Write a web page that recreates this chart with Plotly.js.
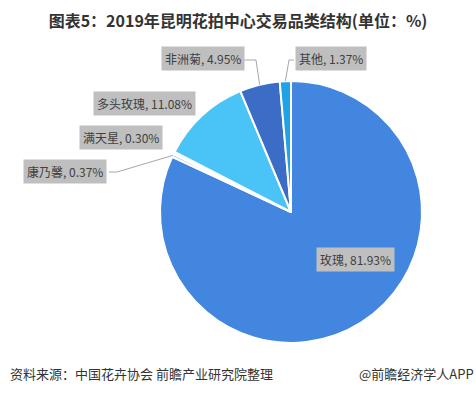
<!DOCTYPE html>
<html>
<head>
<meta charset="utf-8">
<script src="https://cdn.plot.ly/plotly-3.0.1.min.js"></script>
<style>
  html,body{margin:0;padding:0;background:#fff;}
  #chart{width:476px;height:394px;}
</style>
</head>
<body>
<div id="chart"></div>
<script>
// ---- data ----
const categories = ['玫瑰', '康乃馨', '满天星', '多头玫瑰', '非洲菊', '其他'];
const shares = [81.93, 0.37, 0.30, 11.08, 4.95, 1.37];

// ---- style / layout constants ----
const colors = ['#4286e0', '#8cc8f0', '#c9e6f8', '#4ac3f6', '#3c6dc6', '#1ea3e6'];
const W = 476, H = 394;
const cx = 291, cy = 212, R = 131;
// label box centres (px) per category
const labelPos = [[355, 259], [65, 171], [121, 137], [144, 103], [203, 59], [331, 59]];
// leader: null = none; otherwise [startX, startY, elbowX, elbowY] in px
const leaders = [null, [109, 172, 117, 172], null, null, [244, 60, 256, 60], [294, 60, 289, 60]];

const font = 'Microsoft YaHei, "Noto Sans CJK SC", sans-serif';

// compute mid-angle edge points from data (clockwise from 12 o'clock)
const total = shares.reduce((a, b) => a + b, 0);
let cum = 0;
const edge = shares.map(v => {
  const mid = (cum + v / 2) / total * 2 * Math.PI;
  cum += v;
  return [cx + R * Math.sin(mid), cy - R * Math.cos(mid)];
});

const px = x => x / W, py = y => 1 - y / H;

const annotations = categories.map((c, i) => ({
  xref: 'paper', yref: 'paper',
  x: px(labelPos[i][0]), y: py(labelPos[i][1]),
  xanchor: 'center', yanchor: 'middle',
  text: c + ', ' + shares[i].toFixed(2) + '%',
  showarrow: false,
  bgcolor: '#bfbfbf',
  borderpad: 3,
  font: {family: font, size: 12, color: '#404040'}
}));

annotations.push({
  xref: 'paper', yref: 'paper', x: 8 / W, y: py(373),
  xanchor: 'left', yanchor: 'middle', showarrow: false,
  text: '资料来源：中国花卉协会 前瞻产业研究院整理',
  font: {family: font, size: 13, color: '#333333'}
});
annotations.push({
  xref: 'paper', yref: 'paper', x: 476 / W, y: py(373),
  xanchor: 'right', yanchor: 'middle', showarrow: false,
  text: '@前瞻经济学人APP',
  font: {family: font, size: 13, color: '#333333'}
});

const shapes = [];
leaders.forEach((l, i) => {
  if (!l) return;
  const e = edge[i];
  shapes.push({
    type: 'path', xref: 'paper', yref: 'paper',
    path: `M ${px(l[0])} ${py(l[1])} L ${px(l[2])} ${py(l[3])} L ${px(e[0])} ${py(e[1])}`,
    line: {color: '#a6a6a6', width: 1}
  });
});

const trace = {
  type: 'pie',
  labels: categories,
  values: shares,
  sort: false,
  direction: 'clockwise',
  rotation: 0,
  marker: {colors: colors, line: {color: '#ffffff', width: 2}},
  textinfo: 'none',
  hoverinfo: 'label+percent',
  domain: {x: [(cx - R) / W, (cx + R) / W], y: [(H - cy - R) / H, (H - cy + R) / H]},
  showlegend: false
};

const layout = {
  width: W, height: H,
  margin: {l: 0, r: 0, t: 0, b: 0},
  paper_bgcolor: '#ffffff',
  title: {
    text: '<b>图表5：2019年昆明花拍中心交易品类结构(单位：%)</b>',
    x: 0.5, xanchor: 'center', y: 1 - 21 / H, yanchor: 'middle',
    font: {family: font, size: 16, color: '#333333'}
  },
  annotations: annotations,
  shapes: shapes,
  showlegend: false
};

Plotly.newPlot('chart', [trace], layout, {displayModeBar: false, staticPlot: true});
</script>
</body>
</html>
